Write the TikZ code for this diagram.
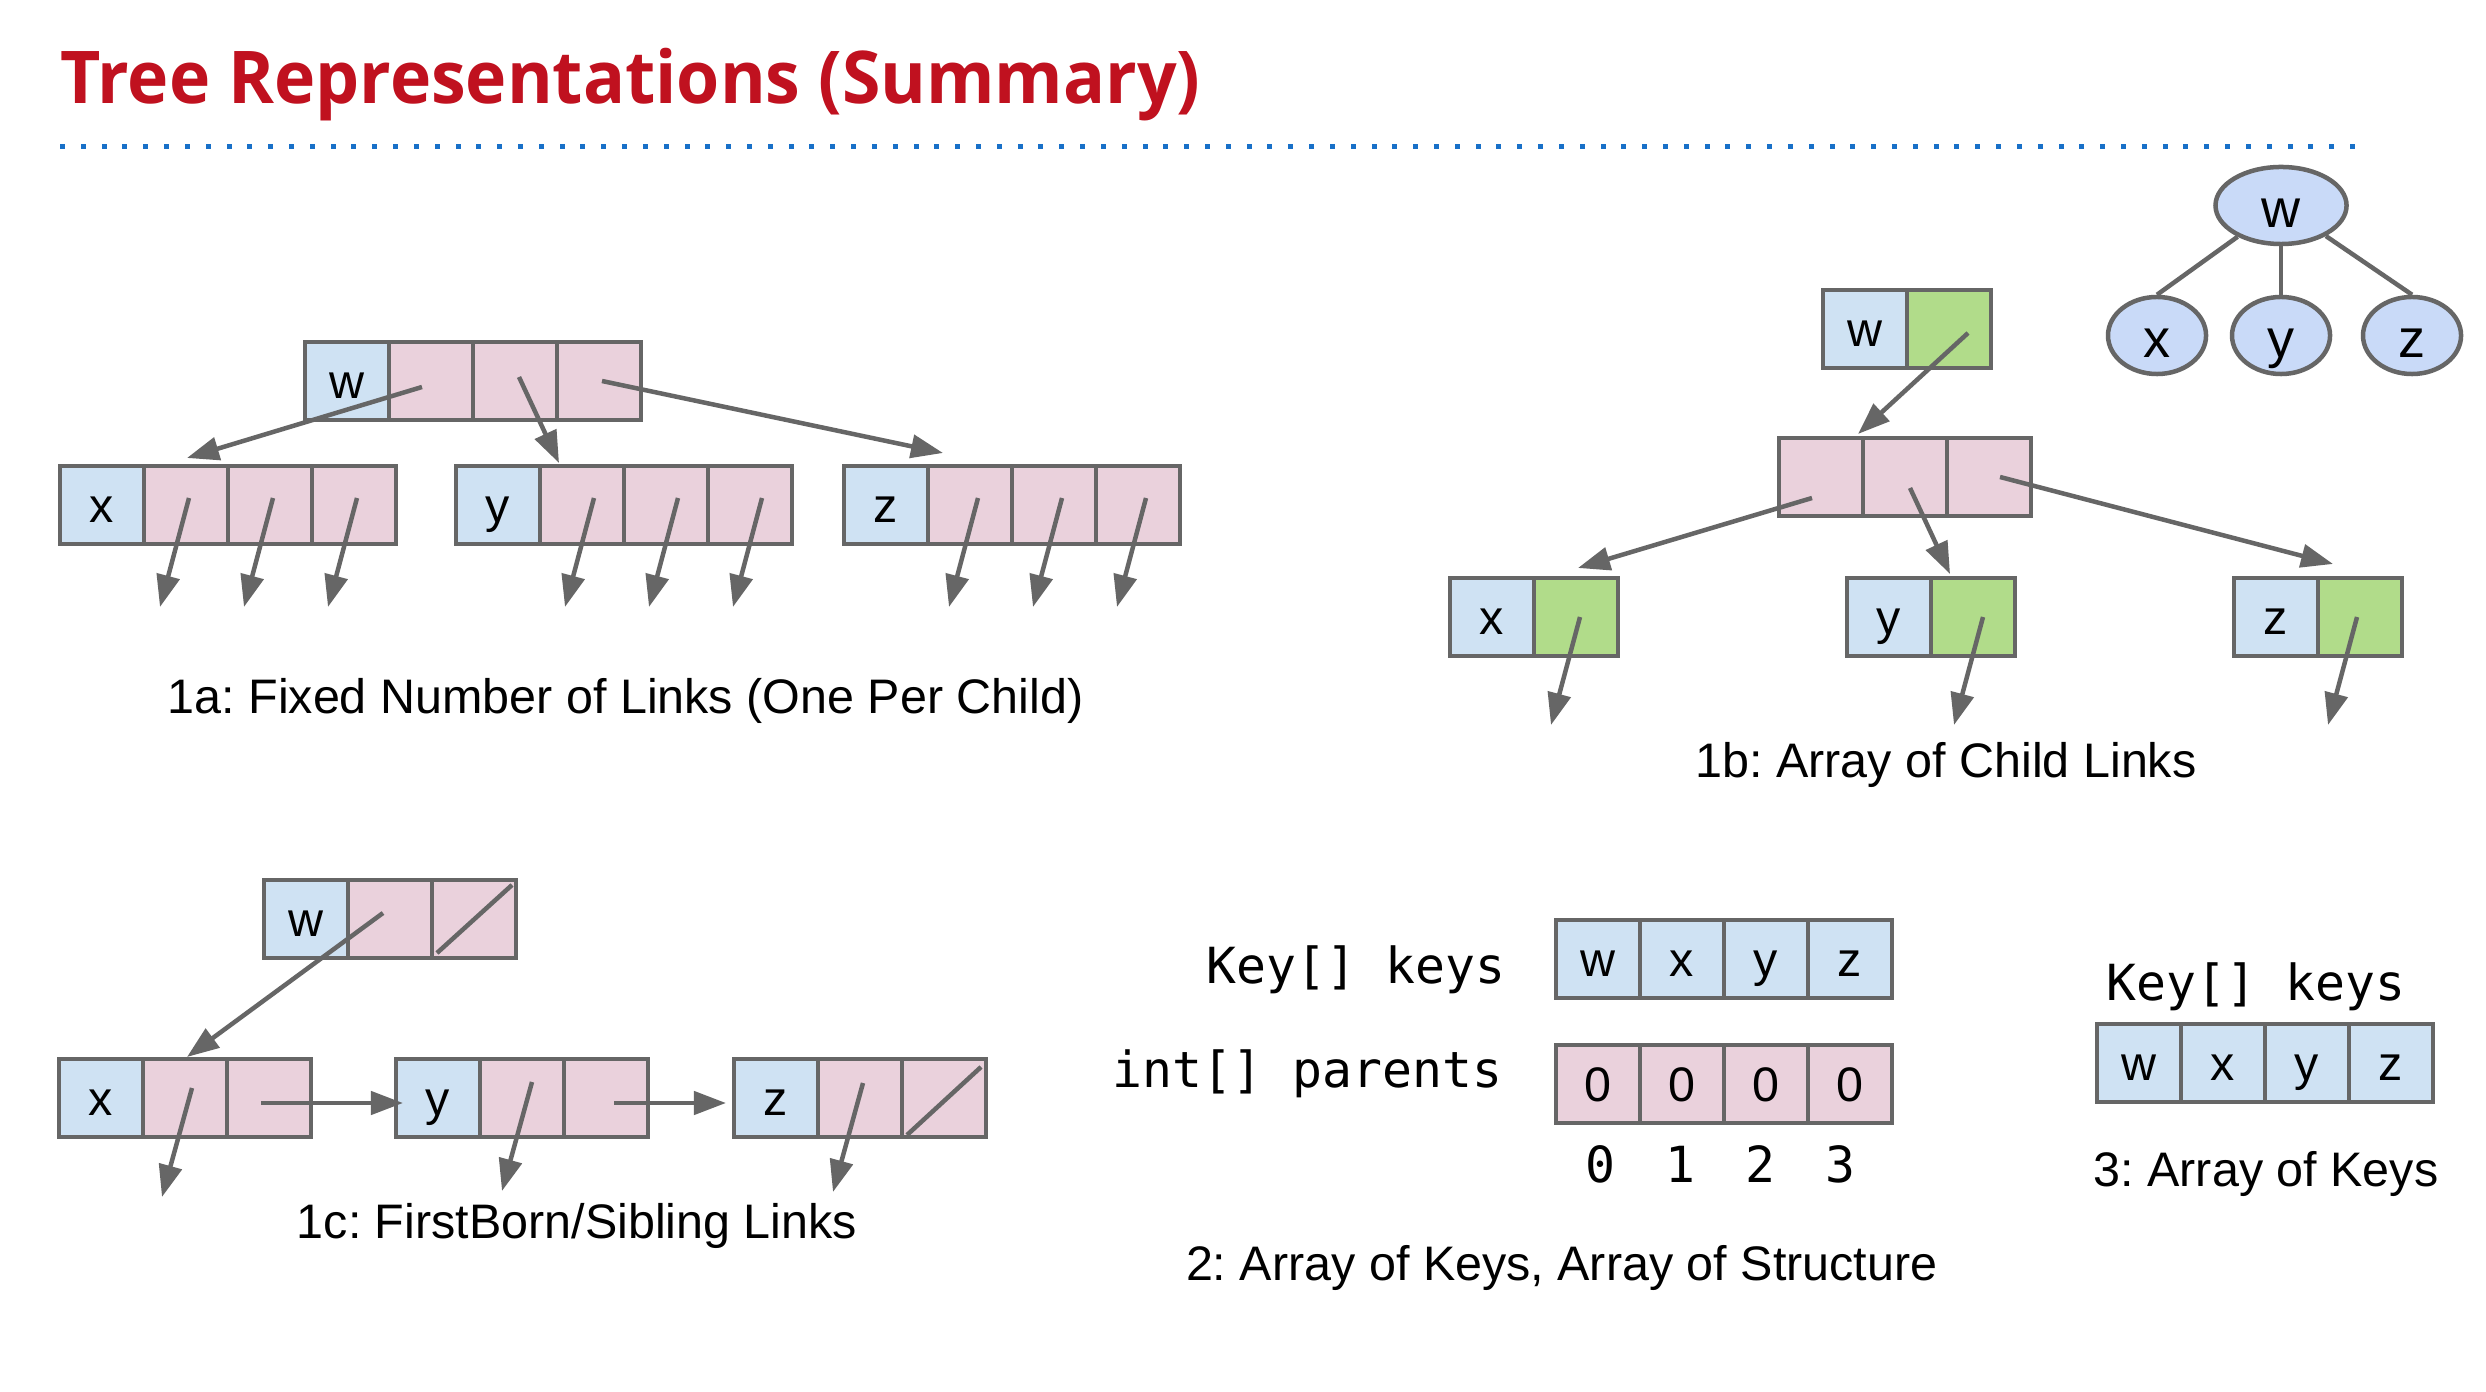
\documentclass[tikz,border=0pt]{standalone}
\usepackage{fontspec}
\setmainfont{Liberation Sans}
\newfontfamily\titlefamily{Open Sans}
\newfontfamily\codefamily{DejaVu Sans Mono}
\usetikzlibrary{arrows.meta,calc,shapes.geometric}
\frenchspacing

\definecolor{edgegray}{HTML}{666666}
\definecolor{keyblue}{HTML}{CFE2F3}
\definecolor{linkpink}{HTML}{EAD1DC}
\definecolor{nextgreen}{RGB}{177,220,138}
\definecolor{treeblue}{HTML}{C9DAF8}
\definecolor{titlered}{RGB}{192,17,31}
\definecolor{dotblue}{RGB}{24,112,200}

\newcommand\lblsize{\fontsize{13.78}{16}\selectfont}
\newcommand\treesize{\fontsize{15.37}{18}\selectfont}
\newcommand\codesize{\fontsize{14.15}{17}\selectfont\codefamily}
\newcommand\titlesize{\fontsize{20.7}{24}\selectfont}

\begin{document}
\begin{tikzpicture}[x=0.01cm,y=-0.01cm,
  cell/.style={draw=edgegray, line width=0.045cm, minimum width=0.84cm,
    minimum height=0.78cm, inner sep=0pt, outer sep=0pt,
    text height=0.35cm, text depth=0pt, font=\lblsize},
  key/.style={cell, fill=keyblue},
  link/.style={cell, fill=linkpink},
  next/.style={cell, fill=nextgreen},
  ptr/.style={draw=edgegray, line width=0.045cm,
    -{Triangle[length=0.32cm,width=0.23cm]}},
  nil/.style={draw=edgegray, line width=0.045cm},
  treenode/.style={ellipse, draw=edgegray, line width=0.045cm, fill=treeblue,
    inner sep=0pt, minimum height=0.77cm, minimum width=0.98cm,
    text height=0.44cm, text depth=0pt, font=\treesize},
  caption/.style={font=\lblsize, inner sep=0pt, anchor=base},
  code/.style={font=\codesize, inner sep=0pt, anchor=base}
]
\fill[white] (0,0) rectangle (2486,1392);
\useasboundingbox (0,0) rectangle (2486,1392);

% heading and dotted rule
\node[anchor=base west, inner sep=0pt, text=titlered,
  font=\titlesize\titlefamily\bfseries] (title) at (60,104)
  {\scalebox{0.958}[1]{Tree Representations (Summary)}};
\foreach \i in {0,...,110}
  \fill[dotblue] (60+\i*20.818,144.3) rectangle ++(5,4.7);

% ---------- 1a: fixed number of links ----------
\node[key]  (aw0) at (347,381) {w};
\node[link] (aw1) at (431,381) {};
\node[link] (aw2) at (515,381) {};
\node[link] (aw3) at (599,381) {};

\node[key]  (ax0) at (102,505) {x};
\node[link] (ax1) at (186,505) {};
\node[link] (ax2) at (270,505) {};
\node[link] (ax3) at (354,505) {};

\node[key]  (ay0) at (498,505) {y};
\node[link] (ay1) at (582,505) {};
\node[link] (ay2) at (666,505) {};
\node[link] (ay3) at (750,505) {};

\node[key]  (az0) at (886,505) {z};
\node[link] (az1) at (970,505) {};
\node[link] (az2) at (1054,505) {};
\node[link] (az3) at (1138,505) {};

\draw[ptr] ($(aw1)+(-9,6)$) -- ($(ax1.north)+(1,-8)$);
\draw[ptr] ($(aw2)+(4,-4)$) -- ($(ay1.north)+(-23,-3)$);
\draw[ptr] ($(aw3)+(3,0)$) -- ($(az1.north)+(-27,-13)$);

\foreach \c/\dx in {ax1/3,ax2/3,ax3/3,ay1/12,ay2/12,ay3/12,az1/8,az2/8,az3/8}{
  \coordinate (\c-from) at ($(\c)+(\dx,-7)$);
  \coordinate (\c-to) at ($(\c-from)+(-29,109)$);
  \draw[ptr] (\c-from) -- (\c-to);
}
\node[caption] (cap1a) at (625.5,713) {1a: Fixed Number of Links (One Per Child)};

% ---------- 1b: array of child links ----------
\node[key]  (bw0) at (1865,329) {w};
\node[next] (bw1) at (1949,329) {};

\node[link] (bm0) at (1821,477) {};
\node[link] (bm1) at (1905,477) {};
\node[link] (bm2) at (1989,477) {};

\node[key]  (bx0) at (1492,617) {x};
\node[next] (bx1) at (1576,617) {};
\node[key]  (by0) at (1889,617) {y};
\node[next] (by1) at (1973,617) {};
\node[key]  (bz0) at (2276,617) {z};
\node[next] (bz1) at (2360,617) {};

\draw[ptr] ($(bw1)+(19,4)$) -- ($(bm0.north east)+(-5,-4)$);
\draw[ptr] ($(bm0)+(-9,21)$) -- ($(bx1.north)+(2,-10)$);
\draw[ptr] ($(bm1)+(5,11)$) -- ($(by1.north)+(-23,-4)$);
\draw[ptr] ($(bm2)+(11,0)$) -- ($(bz1.north)+(-27,-14)$);

\foreach \c/\dx in {bx1/4,by1/10,bz1/-3}{
  \coordinate (\c-from) at ($(\c)+(\dx,0)$);
  \coordinate (\c-to) at ($(\c-from)+(-29,108)$);
  \draw[ptr] (\c-from) -- (\c-to);
}
\node[caption] (cap1b) at (1946,777) {1b: Array of Child Links};

% small tree
\node[treenode, minimum width=1.31cm] (tw) at (2281,205.5) {w};
\node[treenode] (tx) at (2157,335.5) {x};
\node[treenode] (ty) at (2281,335.5) {y};
\node[treenode] (tz) at (2412,335.5) {z};
\draw[nil] (tw) -- (tx.north);
\draw[nil] (tw) -- (ty.north);
\draw[nil] (tw) -- (tz.north);

% ---------- 1c: first-born / sibling links ----------
\node[key]  (cw0) at (306,919) {w};
\node[link] (cw1) at (390,919) {};
\node[link] (cw2) at (474,919) {};

\node[key]  (cx0) at (101,1098) {x};
\node[link] (cx1) at (185,1098) {};
\node[link] (cx2) at (269,1098) {};

\node[key]  (cy0) at (438,1098) {y};
\node[link] (cy1) at (522,1098) {};
\node[link] (cy2) at (606,1098) {};

\node[key]  (cz0) at (776,1098) {z};
\node[link] (cz1) at (860,1098) {};
\node[link] (cz2) at (944,1098) {};

% null sibling links
\draw[nil] ($(cw2.south west)+(5,-5)$) -- ($(cw2.north east)+(-4,5)$);
\draw[nil] ($(cz2.south west)+(5,-2)$) -- ($(cz2.north east)+(-5,8)$);

\draw[ptr] ($(cw1)+(-7,-6)$) -- ($(cx1.north)+(2,-2)$);
\draw[ptr] ($(cx2)+(-8,5)$) -- ($(cy0.west)+(7,5)$);
\draw[ptr] ($(cy2)+(8,5)$) -- ($(cz0.west)+(-8,5)$);

\foreach \c/\dx/\dy in {cx1/7/-10,cy1/10/-16,cz1/3/-15}{
  \coordinate (\c-from) at ($(\c)+(\dx,\dy)$);
  \coordinate (\c-to) at ($(\c-from)+(-30,109)$);
  \draw[ptr] (\c-from) -- (\c-to);
}
\node[caption] (cap1c) at (577,1238) {1c: FirstBorn/Sibling Links};

% ---------- 2: parallel arrays ----------
\node[code] (keys2) at (1356,983) {Key[] keys};
\node[code] (par2) at (1307.5,1087) {int[] parents};

\node[key] (k0) at (1598,959) {w};
\node[key] (k1) at (1682,959) {x};
\node[key] (k2) at (1766,959) {y};
\node[key] (k3) at (1850,959) {z};

\node[link] (p0) at (1598,1084) {0};
\node[link] (p1) at (1682,1084) {0};
\node[link] (p2) at (1766,1084) {0};
\node[link] (p3) at (1850,1084) {0};

\node[code] (i0) at (1600,1182) {0};
\node[code] (i1) at (1680,1182) {1};
\node[code] (i2) at (1760,1182) {2};
\node[code] (i3) at (1840,1182) {3};

\node[caption] (cap2) at (1561.7,1280) {2: Array of Keys, Array of Structure};

% ---------- 3: array of keys ----------
\node[code] (keys3) at (2256,1000) {Key[] keys};
\node[key] (q0) at (2139,1063) {w};
\node[key] (q1) at (2223,1063) {x};
\node[key] (q2) at (2307,1063) {y};
\node[key] (q3) at (2391,1063) {z};
\node[caption] (cap3) at (2266,1186.7) {3: Array of Keys};
\end{tikzpicture}
\end{document}
